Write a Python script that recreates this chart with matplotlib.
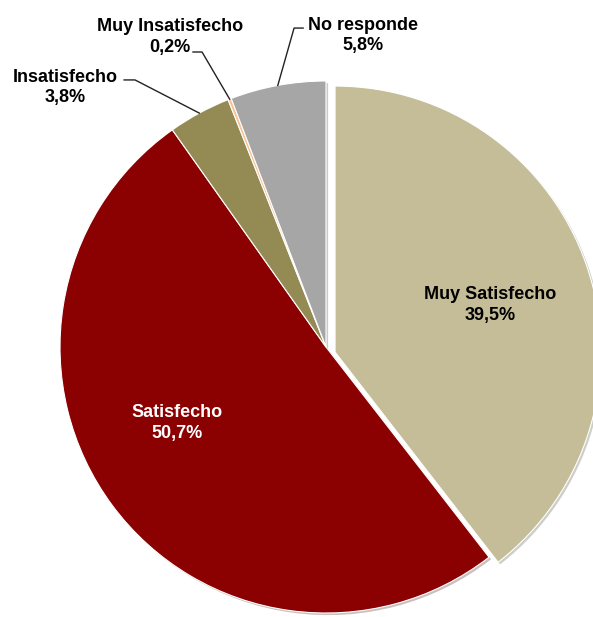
import matplotlib
matplotlib.use('Agg')
import matplotlib.pyplot as plt
import matplotlib.patheffects as pe
import numpy as np

# data
categories = ['Muy Satisfecho', 'Satisfecho', 'Insatisfecho', 'Muy Insatisfecho', 'No responde']
values = [39.5, 50.7, 3.8, 0.2, 5.8]
pct_labels = ['39,5%', '50,7%', '3,8%', '0,2%', '5,8%']
colors = ['#C4BD97', '#8B0000', '#948A54', '#FAC090', '#A6A6A6']

plt.rcParams['font.family'] = ['Liberation Sans', 'DejaVu Sans']

fig = plt.figure(figsize=(5.93, 6.17), dpi=100)
ax = fig.add_axes([0, 0, 1, 1])

wedges, _ = ax.pie(values, colors=colors, startangle=90, counterclock=False,
                   wedgeprops=dict(edgecolor='white', linewidth=0.8))
for w in wedges:
    w.set_path_effects([pe.SimplePatchShadow(offset=(1.5, -1.5), alpha=0.25), pe.Normal()])

# pull the first slice out a bit
wedges[0].set_center((0.034, -0.019))

ax.set_aspect('auto')
ax.set_xlim(-1.2256, 1.0038)
ax.set_ylim(-1.0150, 1.3045)
ax.axis('off')

fs = 13
ls = 1.25
# labels inside
ax.text(0.617, 0.158, categories[0] + '\n' + pct_labels[0], ha='center', va='center',
        fontsize=fs, fontweight='bold', color='black', linespacing=ls)
ax.text(-0.560, -0.286, categories[1] + '\n' + pct_labels[1], ha='center', va='center',
        fontsize=fs, fontweight='bold', color='white', linespacing=ls)

# labels outside with leader lines
outside = {
    2: ((-0.981, 0.975), (-0.759, 1.004), (-0.718, 1.004)),
    3: ((-0.586, 1.165), (-0.500, 1.109), (-0.466, 1.109)),
    4: ((0.139, 1.172), (-0.086, 1.199), (-0.120, 1.199)),
}
for i, (tpos, start, elbow) in outside.items():
    ax.text(tpos[0], tpos[1], categories[i] + '\n' + pct_labels[i], ha='center', va='center',
            fontsize=fs, fontweight='bold', color='black', linespacing=ls)
    w = wedges[i]
    mid = np.deg2rad((w.theta1 + w.theta2) / 2)
    tx, ty = np.cos(mid), np.sin(mid)
    ax.plot([start[0], elbow[0], tx], [start[1], elbow[1], ty], color='#222222', lw=1.0)

fig.savefig('out.png', dpi=100)
